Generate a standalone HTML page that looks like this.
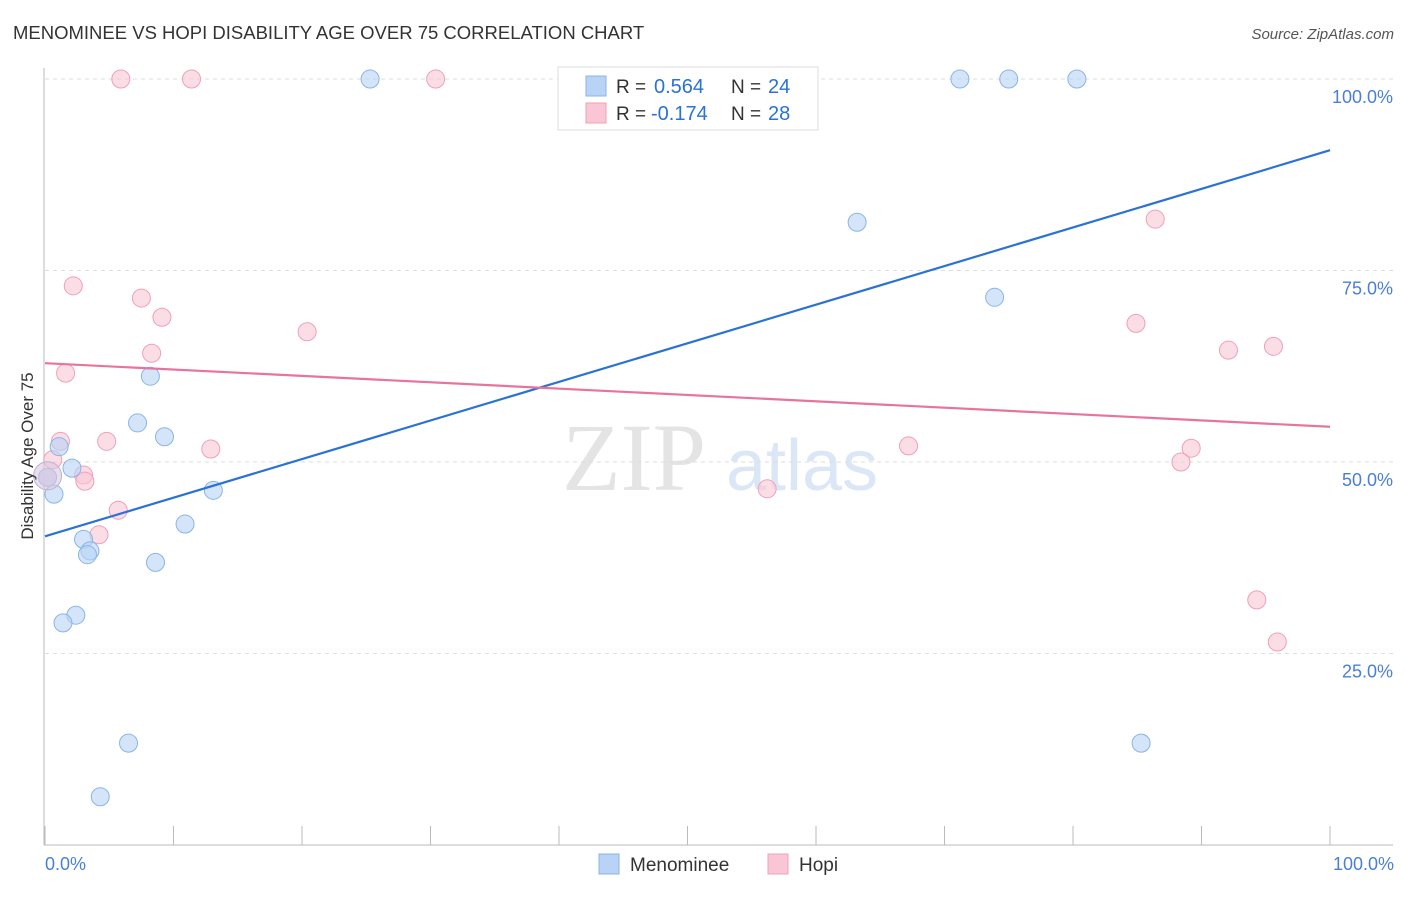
<!DOCTYPE html>
<html><head><meta charset="utf-8"><style>
body{margin:0;background:#fff;font-family:"Liberation Sans",sans-serif;}
</style></head><body>
<svg width="1406" height="892" viewBox="0 0 1406 892">
<text x="13" y="39" font-size="18.5" fill="#333">MENOMINEE VS HOPI DISABILITY AGE OVER 75 CORRELATION CHART</text>
<text x="1394" y="39" font-size="15" fill="#555" text-anchor="end" font-style="italic">Source: ZipAtlas.com</text>
<g>
<text x="634" y="490" font-size="96" fill="#e4e4e4" text-anchor="middle" font-family="Liberation Serif,serif">ZIP</text>
<text x="802" y="490" font-size="72" fill="#dbe7f7" text-anchor="middle">atlas</text>
</g>
<g id="grid"></g>
<g id="axes"></g>
<g id="marks"></g>
<text transform="translate(33,456) rotate(-90)" font-size="17" fill="#333" text-anchor="middle">Disability Age Over 75</text>
<text x="45" y="870" font-size="18" fill="#4a7fd4">0.0%</text>
<text x="1394" y="870" font-size="18" fill="#4a7fd4" text-anchor="end">100.0%</text>
<g>
<rect x="558" y="67" width="260" height="63" fill="#fff" stroke="#ddd"/>
<rect x="586" y="76" width="20" height="20" fill="#b8d3f5" stroke="#8ab4e8"/>
<rect x="586" y="103" width="20" height="20" fill="#f9c6d5" stroke="#f0a0b8"/>
<text x="616" y="93" font-size="19" fill="#333">R =</text>
<text x="654" y="93" font-size="20" fill="#2a72d5">0.564</text>
<text x="731" y="93" font-size="19" fill="#333">N =</text>
<text x="768" y="93" font-size="20" fill="#2a72d5">24</text>
<text x="616" y="120" font-size="19" fill="#333">R =</text>
<text x="651" y="120" font-size="20" fill="#2a72d5">-0.174</text>
<text x="731" y="120" font-size="19" fill="#333">N =</text>
<text x="768" y="120" font-size="20" fill="#2a72d5">28</text>
</g>
<g>
<rect x="599" y="854" width="20" height="20" fill="#b8d3f5" stroke="#8ab4e8"/>
<text x="630" y="871" font-size="19" fill="#333">Menominee</text>
<rect x="768" y="854" width="20" height="20" fill="#f9c6d5" stroke="#f0a0b8"/>
<text x="799" y="871" font-size="19" fill="#333">Hopi</text>
</g>
</svg>
<script>
const yTicks=[25,50,75,100];
const yTickLabels=["25.0%","50.0%","75.0%","100.0%"];
const xTicks=[0,10,20,30,40,50,60,70,80,90,100];
const blueX=[25.3,71.2,75.0,80.3,63.2,73.9,8.2,7.2,9.3,1.1,2.1,0.2,0.7,13.1,10.9,3.0,3.5,3.3,8.6,2.4,1.4,6.5,85.3,4.3];
const blueY=[100,100,100,100,81.3,71.5,61.2,55.1,53.3,52.0,49.2,48.0,45.8,46.3,41.9,39.9,38.4,37.9,36.9,30.0,29.0,13.3,13.3,6.3];
const pinkX=[5.9,11.4,30.4,86.4,2.2,7.5,9.1,20.4,84.9,8.3,1.6,92.1,95.6,1.2,4.8,12.9,67.2,89.2,88.4,0.6,3.0,3.1,0.2,5.7,4.2,56.2,94.3,95.9];
const pinkY=[100,100,100,81.7,73.0,71.4,68.9,67.0,68.1,64.2,61.6,64.6,65.1,52.7,52.7,51.7,52.1,51.8,50.0,50.3,48.3,47.5,48.0,43.7,40.5,46.5,32.0,26.5];
const blueLine=[40.3,90.7];
const pinkLine=[62.9,54.6];
const NS="http://www.w3.org/2000/svg";
const X=v=>45+v*12.85, Y=v=>845-v*7.66;
function mk(p,t,a){const e=document.createElementNS(NS,t);for(const k in a)e.setAttribute(k,a[k]);p.appendChild(e);return e;}
const grid=document.getElementById('grid'),axes=document.getElementById('axes'),marks=document.getElementById('marks');
yTicks.forEach((t,i)=>{
 const l=mk(grid,'line',{x1:45,x2:1393,y1:Y(t),y2:Y(t),stroke:'#ddd','stroke-dasharray':'4,4'});
 
 
 const tx=mk(grid,'text',{x:1393,y:Y(t)+24,'font-size':18,fill:'#4a7fd4','text-anchor':'end'});
 tx.textContent=yTickLabels[i];
 
 
});
mk(axes,'line',{x1:44,x2:44,y1:68,y2:845,stroke:'#bbb'});
mk(axes,'line',{x1:44,x2:1393,y1:845,y2:845,stroke:'#bbb'});
xTicks.forEach(t=>{
 const l=mk(axes,'line',{x1:X(t),x2:X(t),y1:826,y2:845,stroke:'#bbb'});
 
 
});
function dots(xs,ys,fill,stroke,name){
 xs.forEach((x,i)=>{
  const c=mk(marks,'circle',{cx:X(x),cy:Y(ys[i]),r:9,fill:fill,'fill-opacity':0.6,stroke:stroke,'stroke-width':1});
  
  
 });
}
dots(pinkX,pinkY,'#f9c6d5','#f0a0b8','hopi-point');
dots(blueX,blueY,'#b8d3f5','#8ab4e8','menominee-point');
const big=mk(marks,'circle',{cx:X(0.2),cy:Y(48.2),r:14,fill:'#d8c8e0','fill-opacity':0.6,stroke:'#c0b0d0'});


const bl=mk(marks,'line',{x1:X(0),x2:X(100),y1:Y(blueLine[0]),y2:Y(blueLine[1]),stroke:'#2a72d5','stroke-width':2.2});


const pl=mk(marks,'line',{x1:X(0),x2:X(100),y1:Y(pinkLine[0]),y2:Y(pinkLine[1]),stroke:'#e8739e','stroke-width':2.2});


</script>
</body></html>
